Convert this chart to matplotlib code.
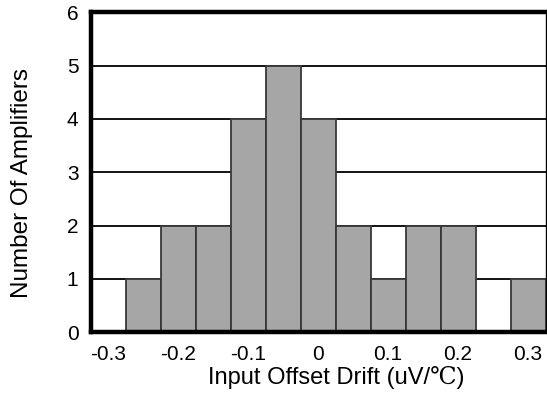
import matplotlib
matplotlib.use("Agg")
import matplotlib.pyplot as plt

# Histogram of input offset drift, bin centres in uV/degC
bin_centers = [-0.3, -0.25, -0.2, -0.15, -0.1, -0.05, 0.0, 0.05, 0.1, 0.15, 0.2, 0.25, 0.3]
counts = [0, 1, 2, 2, 4, 5, 4, 2, 1, 2, 2, 0, 1]
bin_width = 0.05

x_ticks = [-0.3, -0.2, -0.1, 0, 0.1, 0.2, 0.3]
x_tick_labels = ["-0.3", "-0.2", "-0.1", "0", "0.1", "0.2", "0.3"]
y_ticks = [0, 1, 2, 3, 4, 5, 6]

plt.rcParams['font.family'] = ['Liberation Sans', 'DejaVu Serif']

fig = plt.figure(figsize=(5.47, 4.04), dpi=100)
ax = fig.add_axes([91 / 547, 72 / 404, 454.5 / 547, 319.5 / 404])

# horizontal grid behind the bars
for y in y_ticks[1:-1]:
    ax.axhline(y, color='black', linewidth=1.3, zorder=1)

ax.bar(bin_centers, counts, width=bin_width, color='#a6a6a6',
       edgecolor='#383838', linewidth=1.3, zorder=2)

ax.set_xlim(-0.325, 0.325)
ax.set_ylim(0, 6)
ax.set_xticks(x_ticks)
ax.set_xticklabels(x_tick_labels)
ax.set_yticks(y_ticks)
ax.tick_params(length=0, labelsize=15, pad=9)

for side in ['left', 'bottom', 'top']:
    ax.spines[side].set_linewidth(3.2)
ax.spines['right'].set_linewidth(1.0)
for s in ax.spines.values():
    s.set_zorder(3)

ax.set_xlabel("Input Offset Drift (uV/℃)", fontsize=17)
ax.set_ylabel("Number Of Amplifiers", fontsize=17.5)
ax.xaxis.set_label_coords(0.539, -0.107)
ax.yaxis.set_label_coords(-0.128, 0.466)

fig.savefig("out.png", dpi=100)
